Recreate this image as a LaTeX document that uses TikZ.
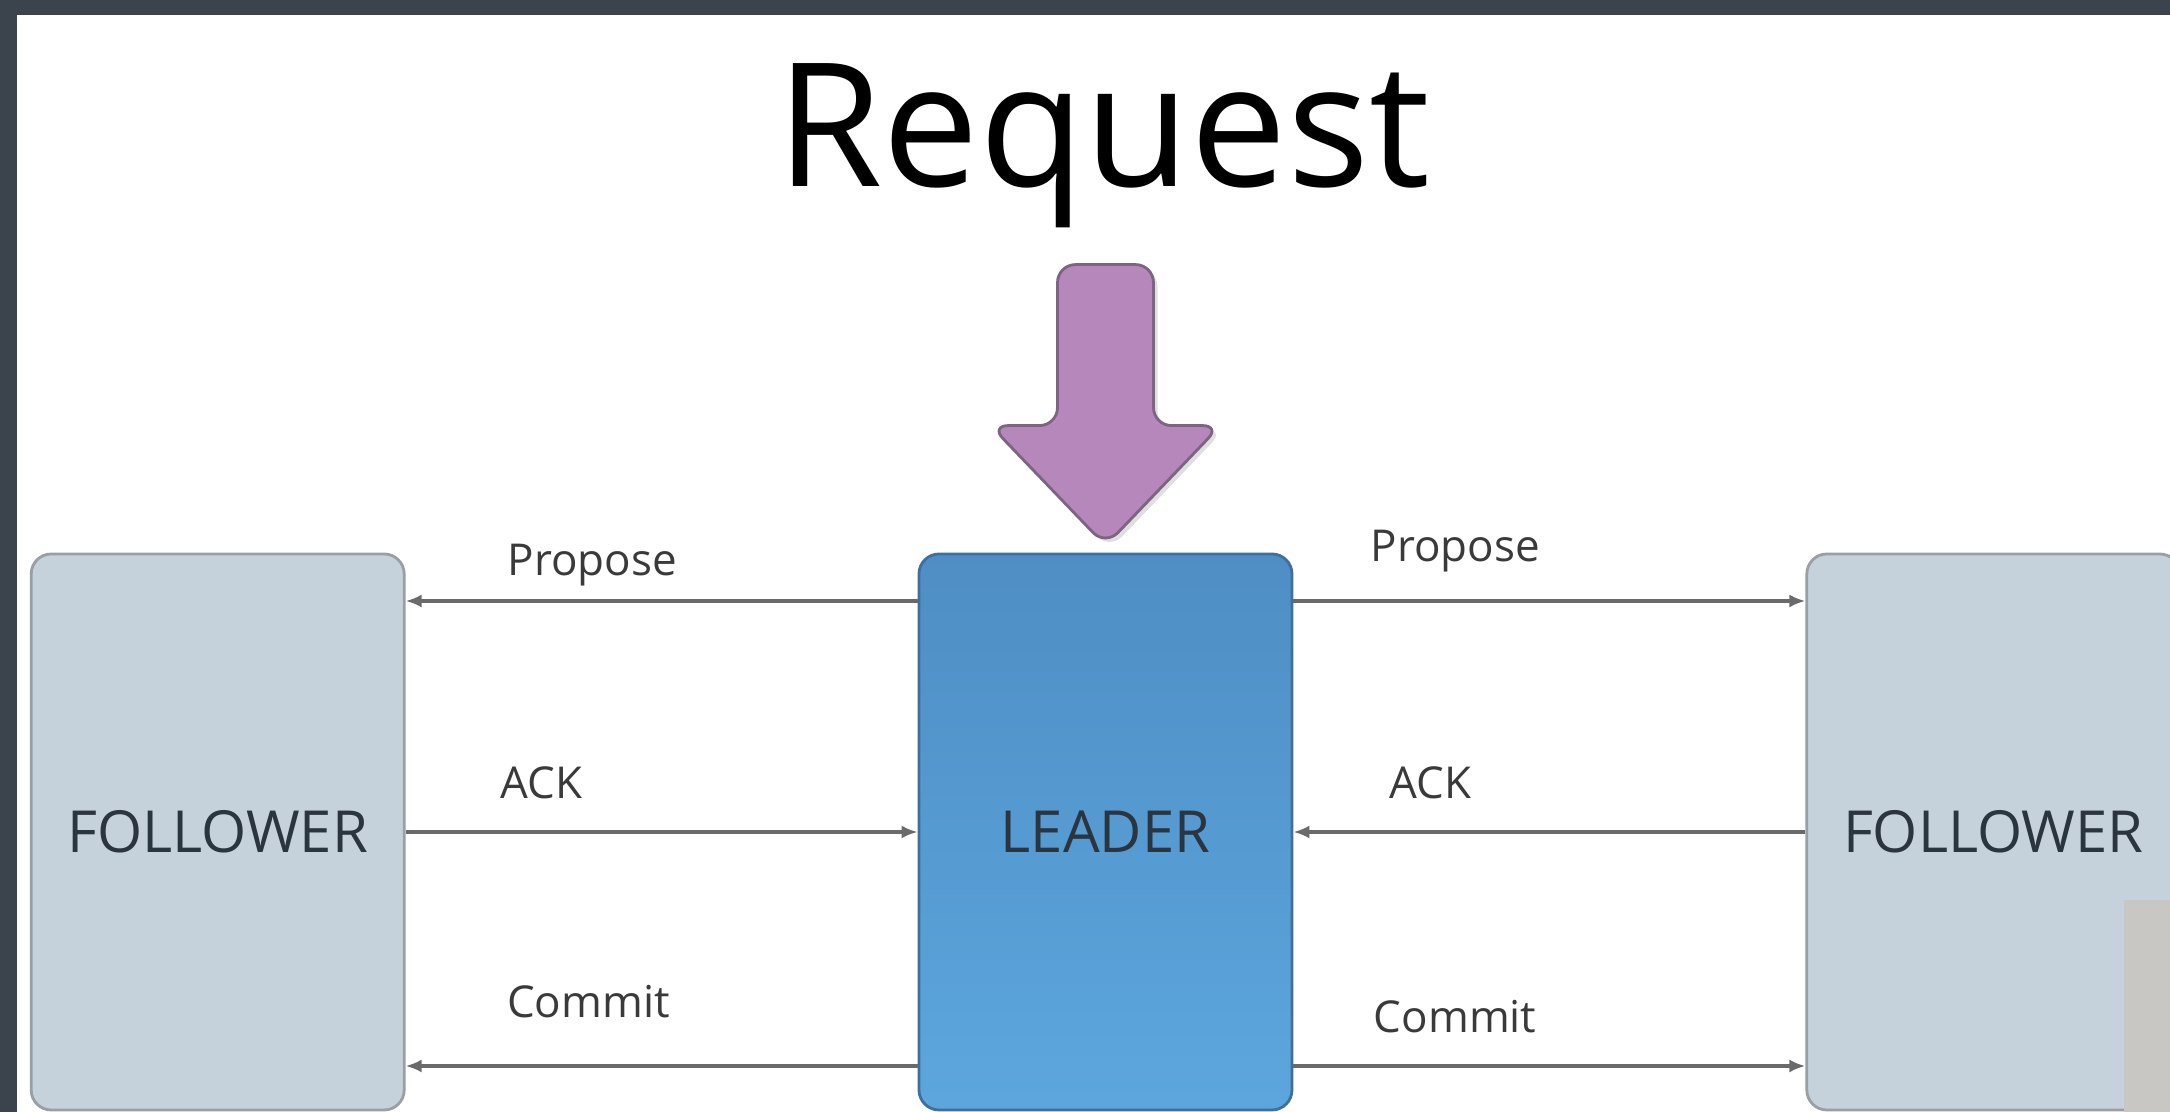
\documentclass[tikz,border=0pt]{standalone}
\usepackage{fontspec}
\setmainfont{Open Sans}
\usetikzlibrary{positioning,arrows.meta,shadows}

\definecolor{framegray}{HTML}{3B434D}
\definecolor{followerfill}{HTML}{C5D2DC}
\definecolor{boxline}{HTML}{9A9FA4}
\definecolor{leadertop}{HTML}{4E8EC4}
\definecolor{leaderbot}{HTML}{5CA6DE}
\definecolor{leaderline}{HTML}{3F6F9C}
\definecolor{boxtext}{HTML}{2B3540}
\definecolor{msgline}{HTML}{6A6A6A}
\definecolor{lbltext}{HTML}{3A3A3A}
\definecolor{reqfill}{HTML}{B587BA}
\definecolor{reqline}{HTML}{7D6483}
\definecolor{panelgray}{HTML}{C9C7C4}

\begin{document}
\begin{tikzpicture}[
    node distance=5.12cm,
    box/.style={rectangle, rounded corners=0.2cm, draw=boxline, line width=0.8pt, minimum width=3.73cm, minimum height=5.56cm, font=\fontsize{16.5}{18}\selectfont, text=boxtext},
    follower/.style={box, fill=followerfill},
    leader/.style={box, top color=leadertop, bottom color=leaderbot, draw=leaderline},
    msg/.style={-{Latex[length=0.16cm,width=0.13cm]}, draw=msgline, line width=0.9pt},
    lbl/.style={font=\fontsize{12.5}{14}\selectfont, text=lbltext},
    reqarrow/.style={fill=reqfill, draw=reqline, line width=0.8pt, rounded corners=0.18cm, drop shadow={opacity=0.25, shadow xshift=0.04cm, shadow yshift=-0.04cm}}
]
    % Frame
    \useasboundingbox (0,0) rectangle (21.7,11.12);
    \clip (0,0) rectangle (21.7,11.12);
    \fill[framegray] (0,0) rectangle (21.7,11.12);
    \fill[white] (0.17,0) rectangle (21.7,10.97);

    % Title
    \node[anchor=base, font=\fontsize{49}{56}\selectfont, text=black] (title) at (11.03,9.25) {Request};

    % Servers
    \node[leader] (leader) at (11.055,2.80) {LEADER};
    \node[follower, left=of leader] (fl) {FOLLOWER};
    \node[follower, right=of leader] (fr) {FOLLOWER};

    % Request arrow
    \draw[reqarrow] ([yshift=0.07cm]leader.north) coordinate (tip) -- ++(1.15,1.2) -- ++(-0.67,0) -- ++(0,1.61) -- ++(-0.96,0) -- ++(0,-1.61) -- ++(-0.67,0) -- cycle;

    % Messages, left side
    \draw[msg] ([yshift=2.31cm]leader.west) -- node[lbl, pos=0.635, yshift=0.36cm] {Propose} ([yshift=2.31cm]fl.east);
    \draw[msg] (fl.east) -- node[lbl, pos=0.266, yshift=0.49cm] {ACK} (leader.west);
    \draw[msg] ([yshift=-2.34cm]leader.west) -- node[lbl, pos=0.643, yshift=0.64cm] {Commit} ([yshift=-2.34cm]fl.east);

    % Messages, right side
    \draw[msg] ([yshift=2.31cm]leader.east) -- node[lbl, pos=0.316, yshift=0.50cm] {Propose} ([yshift=2.31cm]fr.west);
    \draw[msg] (fr.west) -- node[lbl, pos=0.732, yshift=0.49cm] {ACK} (leader.east);
    \draw[msg] ([yshift=-2.34cm]leader.east) -- node[lbl, pos=0.316, yshift=0.49cm] {Commit} ([yshift=-2.34cm]fr.west);

    % Panel in the corner
    \fill[panelgray] (21.24,0) rectangle (21.7,2.12);
\end{tikzpicture}
\end{document}
